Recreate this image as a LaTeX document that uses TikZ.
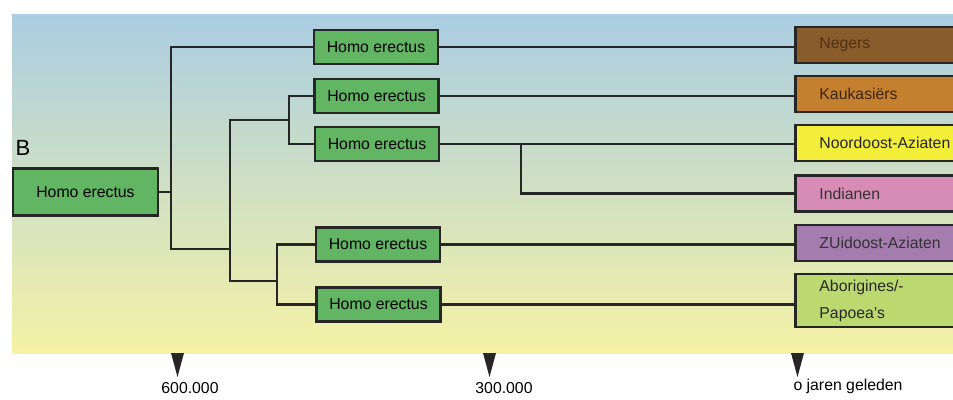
\documentclass[tikz,border=0pt]{standalone}
\usepackage{fontspec}
\setmainfont{Liberation Sans}
\begin{document}
\begin{tikzpicture}[x=1pt,y=-1pt,
  lnk/.style={line width=2.9pt,draw=black!85,line cap=rect},
  hbox/.style={draw=black!85,line width=2.9pt,fill=erectus,inner sep=0pt,
    minimum width=124pt,minimum height=34pt,font=\fontsize{15.8}{18}\selectfont},
  pbox/.style={draw=black!85,line width=2.9pt,anchor=west,inner xsep=24pt,inner ysep=0pt,
    text width=150pt,align=left,minimum height=36pt,font=\fontsize{15.8}{27}\selectfont},
  tick/.style={fill=black!85},
  yr/.style={font=\fontsize{15.8}{18}\selectfont}]
\definecolor{erectus}{HTML}{62B562}
\definecolor{skytop}{HTML}{AACDE2}
\definecolor{skymid}{HTML}{E0EAD8}
\definecolor{skybot}{HTML}{F5F2A6}
\useasboundingbox (0,0) rectangle (953,399);
\fill[white] (0,0) rectangle (953,399);
% sky-to-sand backdrop
\shade[top color=skytop,middle color=skymid,bottom color=skybot] (12,14) rectangle (953,353);

\node[font=\fontsize{22}{24}\selectfont,anchor=west] (lblB) at (12,148) {B};

% Homo erectus lineages
\node[hbox,minimum width=145pt,minimum height=47pt] (root) at (85.5,192) {Homo erectus};
\node[hbox] (n1) at (376,47) {Homo erectus};
\node[hbox] (n2) at (376.5,96) {Homo erectus};
\node[hbox] (n3) at (377,144) {Homo erectus};
\node[hbox] (n4) at (378,244.5) {Homo erectus};
\node[hbox] (n5) at (378.5,304.5) {Homo erectus};

% present-day populations
\node[pbox,fill={rgb,255:red,138;green,92;blue,44},text={rgb,255:red,80;green,50;blue,20}] (neg) at (794,45) {Negers};
\node[pbox,fill={rgb,255:red,196;green,128;blue,46},text={rgb,255:red,60;green,36;blue,14}] (kau) at (794,94) {Kaukasiërs};
\node[pbox,fill={rgb,255:red,243;green,238;blue,58},text=black!85] (noo) at (794,143) {Noordoost-Aziaten};
\node[pbox,fill={rgb,255:red,214;green,140;blue,180},text=black!80] (ind) at (794,193.5) {Indianen};
\node[pbox,fill={rgb,255:red,164;green,124;blue,174},text=black!80] (zui) at (794,243) {ZUidoost-Aziaten};
\node[pbox,fill={rgb,255:red,188;green,217;blue,112},text=black!85,minimum height=53pt] (abo) at (794,300.5) {Aborigines/-\\Papoea's};

% branching points
\coordinate (ja) at (171,249);
\coordinate (jb) at (230,249);
\coordinate (jc) at (230,120);
\coordinate (jd) at (230,281);
\coordinate (je) at (289,120);
\coordinate (jf) at (277,281);
\coordinate (jg) at (521,144);

\draw[lnk] (root.east) -- (root.east -| ja);
\draw[lnk] (n1.west) -| (ja) -- (jb);
\draw[lnk] (jc) -- (jd);
\draw[lnk] (jc) -- (je);
\draw[lnk] (n2.west) -| (je);
\draw[lnk] (n3.west) -| (je);
\draw[lnk] (jd) -- (jf);
\draw[lnk] (n4.west) -| (jf);
\draw[lnk] (n5.west) -| (jf);

\draw[lnk] (n1.east) -- (n1.east -| neg.west);
\draw[lnk] (n2.east) -- (n2.east -| kau.west);
\draw[lnk] (n3.east) -- (n3.east -| noo.west);
\draw[lnk] (jg) |- (ind.west);
\draw[lnk] (n4.east) -- (n4.east -| zui.west);
\draw[lnk] (n5.east) -- (n5.east -| abo.west);

% time axis
\fill[tick] (171,353) -- (184,353) -- (177.5,377) -- cycle;
\fill[tick] (483,353) -- (496,353) -- (489.5,377) -- cycle;
\fill[tick] (791,353) -- (804,353) -- (797.5,377) -- cycle;
\node[yr] (t600) at (190,388) {600.000};
\node[yr] (t300) at (504,388) {300.000};
\node[yr,anchor=west] (t0) at (790,386) {o jaren geleden};
\end{tikzpicture}
\end{document}
